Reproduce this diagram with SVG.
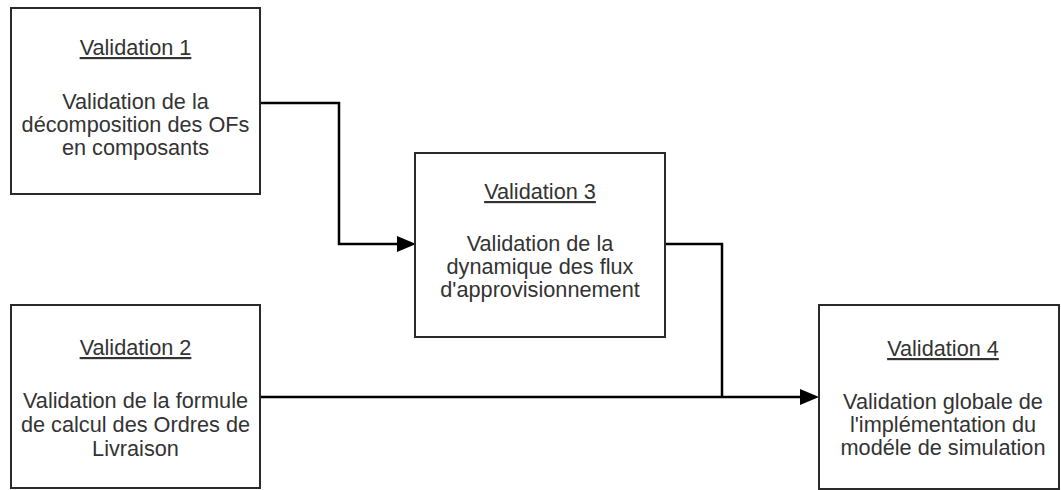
<svg xmlns="http://www.w3.org/2000/svg" width="1061" height="490" viewBox="0 0 1061 490">
<style>
.box{fill:#fff;stroke:#2a2a2a;stroke-width:2}
.t{font-family:"Liberation Sans",Arial,sans-serif;font-size:21.7px;fill:#333;text-anchor:middle}
.h{text-decoration:underline}
.c{fill:none;stroke:#000;stroke-width:2.5}
</style>
<defs>
<marker id="arr" markerUnits="userSpaceOnUse" markerWidth="20" markerHeight="18" refX="0" refY="8" orient="auto">
<path d="M0,0 L19,8 L0,16 z" fill="#000"/>
</marker>
</defs>
<rect width="1061" height="490" fill="#fff"/>
<g id="connectors">
<path class="c" d="M260,103 H339 V244 H397" marker-end="url(#arr)"/>
<path class="c" d="M665,244 H722 V397"/>
<path class="c" d="M260,397 H800" marker-end="url(#arr)"/>
</g>
<g id="v1">
<rect class="box" x="11" y="8" width="249" height="186"/>
<text class="t h" x="135.5" y="55">Validation 1</text>
<text class="t" x="135.5" y="109">Validation de la</text>
<text class="t" x="135.5" y="132">décomposition des OFs</text>
<text class="t" x="135.5" y="155">en composants</text>
</g>
<g id="v2">
<rect class="box" x="11" y="305" width="249" height="183"/>
<text class="t h" x="135.5" y="355">Validation 2</text>
<text class="t" x="135.5" y="408">Validation de la formule</text>
<text class="t" x="135.5" y="432">de calcul des Ordres de</text>
<text class="t" x="135.5" y="456">Livraison</text>
</g>
<g id="v3">
<rect class="box" x="415" y="153" width="250" height="184"/>
<text class="t h" x="540" y="199">Validation 3</text>
<text class="t" x="540" y="251">Validation de la</text>
<text class="t" x="540" y="274">dynamique des flux</text>
<text class="t" x="540" y="297">d'approvisionnement</text>
</g>
<g id="v4">
<rect class="box" x="819" y="305" width="240" height="184"/>
<text class="t h" x="943" y="356">Validation 4</text>
<text class="t" x="943" y="409">Validation globale de</text>
<text class="t" x="943" y="432">l'implémentation du</text>
<text class="t" x="943" y="455">modéle de simulation</text>
</g>
</svg>
